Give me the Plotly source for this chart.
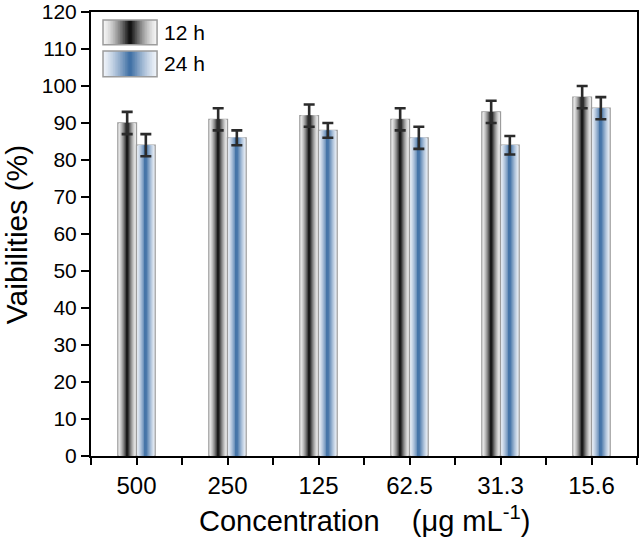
import plotly.graph_objects as go

categories = ["500", "250", "125", "62.5", "31.3", "15.6"]
v12 = [90, 91, 92, 91, 93, 97]
e12 = [3, 3, 3, 3, 3, 3]
v24 = [84, 86, 88, 86, 84, 94]
e24 = [3, 2, 2, 3, 2.5, 3]
y_ticks = list(range(0, 121, 10))

FONT = "Liberation Sans, Arial, sans-serif"
BAR_W = 0.205
N_LAYERS = 10

def blend(edge, center, t):
    return "rgb(%d,%d,%d)" % tuple(round(edge[i] + (center[i] - edge[i]) * t) for i in range(3))

series = [
    dict(name="12 h", vals=v12, errs=e12, c=-BAR_W / 2, edge=(245, 245, 245), center=(8, 8, 8), p=1.5),
    dict(name="24 h", vals=v24, errs=e24, c=BAR_W / 2, edge=(240, 244, 250), center=(58, 108, 162), p=1.3),
]

xs = list(range(len(categories)))
fig = go.Figure()

for s in series:
    for k in range(N_LAYERS):
        f = 1 - k / N_LAYERS
        d = f - 0.5 / N_LAYERS
        col = blend(s["edge"], s["center"], (1 - d) ** s["p"])
        w = BAR_W * f
        fig.add_trace(go.Bar(
            x=xs, y=s["vals"], width=w, offset=s["c"] - w / 2,
            marker=dict(color=col,
                        line=dict(color="#9c9c9c" if k == 0 else col, width=1.3 if k == 0 else 0)),
            showlegend=False, hoverinfo="skip"))

for s in series:
    fig.add_trace(go.Scatter(
        x=[x + s["c"] for x in xs], y=s["vals"], mode="markers",
        marker=dict(size=1, opacity=0),
        error_y=dict(type="data", array=s["errs"], visible=True, color="#2b2b2b", thickness=2.6, width=5.5),
        showlegend=False, hoverinfo="skip"))

# custom legend with gradient boxes (paper coordinates)
L_X0, L_X1 = 0.022, 0.121
boxes = [(0.982, 0.926), (0.912, 0.854)]
shapes = []
NL = 16
for s, (ytop, ybot) in zip(series, boxes):
    cx = (L_X0 + L_X1) / 2
    half = (L_X1 - L_X0) / 2
    for k in range(NL):
        f = 1 - k / NL
        d = f - 0.5 / NL
        col = blend(s["edge"], s["center"], (1 - d) ** s["p"])
        shapes.append(dict(type="rect", xref="paper", yref="paper",
                           x0=cx - half * f, x1=cx + half * f, y0=ybot, y1=ytop,
                           fillcolor=col, line=dict(width=0)))
    shapes.append(dict(type="rect", xref="paper", yref="paper",
                       x0=L_X0, x1=L_X1, y0=ybot, y1=ytop,
                       fillcolor="rgba(0,0,0,0)", line=dict(color="#9c9c9c", width=1.5)))

annotations = []
for s, (ytop, ybot) in zip(series, boxes):
    annotations.append(dict(text=s["name"], xref="paper", yref="paper", x=0.13, y=(ytop + ybot) / 2,
                            xanchor="left", yanchor="middle", showarrow=False,
                            font=dict(family=FONT, size=21, color="black")))

annotations.append(dict(text="Concentration&nbsp;&nbsp;&nbsp;&nbsp;(\u03bcg mL<sup>-1</sup>)", xref="paper", yref="paper",
                        x=0.5, y=-0.142, xanchor="center", yanchor="middle", showarrow=False,
                        font=dict(family=FONT, size=29, color="black")))
annotations.append(dict(text="Vaibilities (%)", xref="paper", yref="paper",
                        x=-0.137, y=0.5, xanchor="center", yanchor="middle", textangle=-90,
                        showarrow=False, font=dict(family=FONT, size=30, color="black")))

minor_x = [i + 0.5 for i in range(-1, len(categories))]

fig.update_layout(
    width=644, height=543,
    margin=dict(l=91, r=7, t=12, b=87),
    paper_bgcolor="white", plot_bgcolor="white",
    barmode="overlay",
    shapes=shapes, annotations=annotations,
    xaxis=dict(range=[-0.5, 5.5], tickmode="array", tickvals=xs, ticktext=categories,
               ticks="outside", ticklen=7, tickwidth=1.5, tickcolor="black",
               minor=dict(tickmode="array", tickvals=minor_x, ticks="outside", ticklen=7,
                          tickwidth=1.5, tickcolor="black", showgrid=False),
               showline=True, linecolor="black", linewidth=2, mirror=True,
               showgrid=False, zeroline=False, automargin=False,
               tickfont=dict(family=FONT, size=24, color="black")),
    yaxis=dict(range=[0, 120], tickmode="array", tickvals=y_ticks,
               ticks="outside", ticklen=8, tickwidth=1.5, tickcolor="black",
               showline=True, linecolor="black", linewidth=2, mirror=True,
               showgrid=False, zeroline=False, automargin=False,
               tickfont=dict(family=FONT, size=21, color="black")),
)

fig.write_html("out.html", config={"displayModeBar": False},
               post_script="document.body.style.margin='0';document.body.style.padding='0';")
